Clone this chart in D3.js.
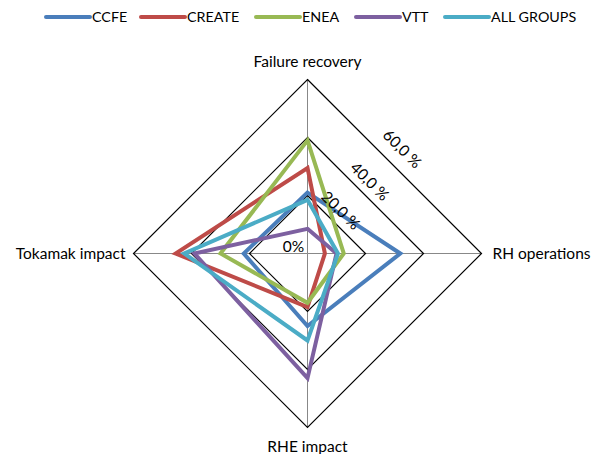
<!DOCTYPE html>
<html>
<head>
<meta charset="utf-8">
<script src="https://cdn.jsdelivr.net/npm/d3@7"></script>
<style>
  html, body { margin: 0; padding: 0; background: #fff; }
  svg { display: block; font-family: Lato, "Open Sans", sans-serif; }
</style>
</head>
<body>
<svg id="chart" width="596" height="454"></svg>
<script>
// Axes of the radar, clockwise from the top
const axes = ["Failure recovery", "RH operations", "RHE impact", "Tokamak impact"];

// Percentage values per group, in axis order
const seriesNames = ["CCFE", "CREATE", "ENEA", "VTT", "ALL GROUPS"];
const ccfe      = [21, 32, 25, 22];
const create    = [29.5, 6, 18.5, 45.5];
const enea      = [39, 12.5, 17, 30];
const vtt       = [8.5, 10, 43, 39];
const allGroups = [18.5, 10.5, 30, 42.5];
const seriesValues = [ccfe, create, enea, vtt, allGroups];
const seriesColors = ["#4A7EBB", "#BE4B48", "#98B954", "#7D60A0", "#4BACC6"];

// Radial gridlines and their labels
const gridTicks = [20, 40, 60];
const tickLabels = ["20,0 %", "40,0 %", "60,0 %"];
const zeroLabel = "0%";

const svg = d3.select("#chart");
const cx = 307.5, cy = 253.5, R = 174;

const r = d3.scaleLinear().domain([0, 60]).range([0, R]);
const angle = d3.scalePoint().domain(axes).range([0, 2 * Math.PI * 3 / 4]);

function pt(ax, v) {
  const a = angle(ax) - Math.PI / 2;
  return [cx + r(v) * Math.cos(a), cy + r(v) * Math.sin(a)];
}

const line = d3.line().x(d => d[0]).y(d => d[1]).curve(d3.curveLinearClosed);

// Axis spokes
svg.append("g").selectAll("line").data(axes).join("line")
  .attr("x1", cx).attr("y1", cy)
  .attr("x2", d => pt(d, 60)[0]).attr("y2", d => pt(d, 60)[1])
  .attr("stroke", "#888").attr("stroke-width", 1);

// Grid diamonds
svg.append("g").selectAll("path").data(gridTicks).join("path")
  .attr("d", t => line(axes.map(a => pt(a, t))))
  .attr("fill", "none").attr("stroke", "#000").attr("stroke-width", 1.2);

// Series polygons
svg.append("g").selectAll("path").data(seriesValues).join("path")
  .attr("d", vals => line(axes.map((a, i) => pt(a, vals[i]))))
  .attr("fill", "none")
  .attr("stroke", (d, i) => seriesColors[i])
  .attr("stroke-width", 4)
  .attr("stroke-linejoin", "miter");

// Value labels along the upper-right edges
const tl = svg.append("g").attr("font-size", 15.5).attr("fill", "#000");
const perpOff = [13, 13, 18];
const alongOff = -7;
gridTicks.forEach((t, i) => {
  const rr = r(t);
  const s = Math.SQRT1_2;
  const x = cx + rr / 2 + perpOff[i] * s + alongOff * s;
  const y = cy - rr / 2 - perpOff[i] * s + alongOff * s;
  tl.append("text")
    .attr("transform", `translate(${x},${y}) rotate(45)`)
    .attr("text-anchor", "middle")
    .attr("dy", "0.35em")
    .text(tickLabels[i]);
});
tl.append("text").attr("x", cx - 14).attr("y", cy - 2)
  .attr("text-anchor", "middle").text(zeroLabel);

// Axis titles
const at = svg.append("g").attr("font-size", 15.5).attr("fill", "#000");
at.append("text").attr("x", cx).attr("y", pt(axes[0], 60)[1] - 12.5)
  .attr("text-anchor", "middle").text(axes[0]);
at.append("text").attr("x", pt(axes[1], 60)[0] + 11).attr("y", cy)
  .attr("dy", "0.35em").text(axes[1]);
at.append("text").attr("x", cx).attr("y", pt(axes[2], 60)[1] + 24)
  .attr("text-anchor", "middle").text(axes[2]);
at.append("text").attr("x", pt(axes[3], 60)[0] - 8).attr("y", cy)
  .attr("dy", "0.35em").attr("text-anchor", "end").text(axes[3]);

// Legend
const legendX = [46, 141, 256, 356, 445];
const lg = svg.append("g").attr("font-size", 14.3);
seriesNames.forEach((n, i) => {
  const g = lg.append("g").attr("transform", `translate(${legendX[i]},17)`);
  g.append("line").attr("x1", 0).attr("x2", 44).attr("y1", 0).attr("y2", 0)
    .attr("stroke", seriesColors[i]).attr("stroke-width", 4).attr("stroke-linecap", "round");
  g.append("text").attr("x", 46).attr("dy", "0.35em").text(n);
});
</script>
</body>
</html>
